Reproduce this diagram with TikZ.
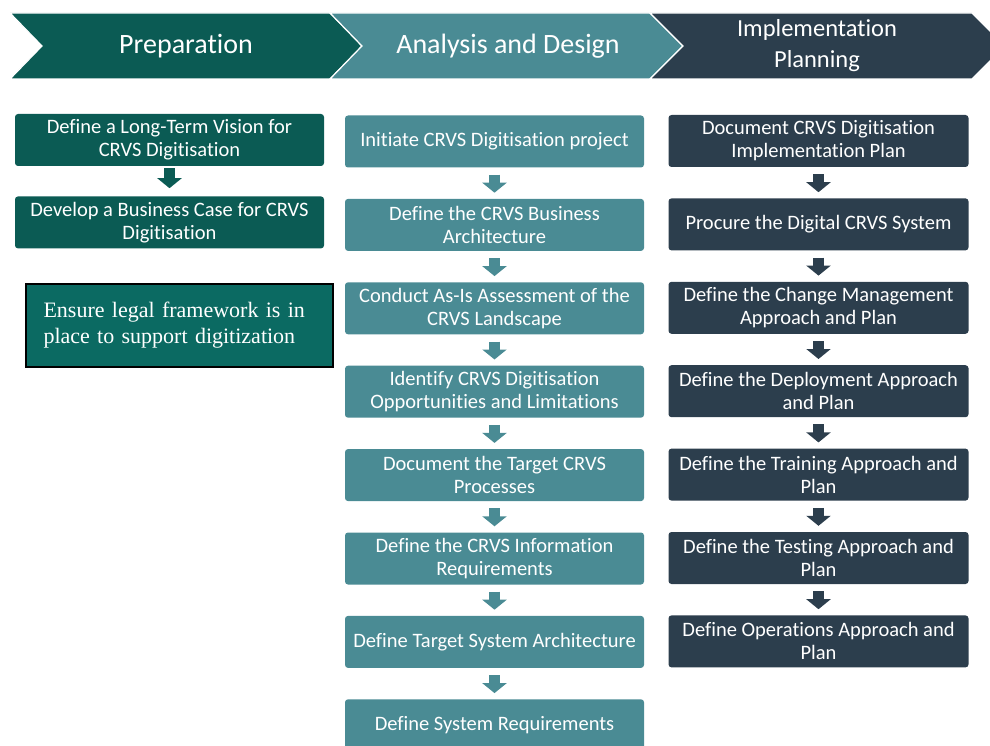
\documentclass[tikz,border=0pt]{standalone}
\usepackage{fontspec}
\setmainfont{Carlito}[Ligatures=NoCommon]
\newfontfamily\legalfont{Liberation Serif}
\usetikzlibrary{positioning,arrows.meta}

\definecolor{prepcol}{HTML}{0B5B54}
\definecolor{designcol}{HTML}{4A8B94}
\definecolor{plancol}{HTML}{2C3E4D}
\definecolor{legalcol}{HTML}{0B6A62}

\tikzset{
  phase/.style={draw=white, line width=1.2pt},
  phase label/.style={text=white, align=center, font=\fontsize{28}{31}\selectfont},
  task/.style={rectangle, rounded corners=3pt, text=white, align=center,
    minimum width=300pt, minimum height=52pt, inner sep=2pt,
    font=\fontsize{20.5}{23}\selectfont},
  prep task/.style={task, fill=prepcol, minimum width=309pt},
  design task/.style={task, fill=designcol, minimum width=299pt},
  plan task/.style={task, fill=plancol},
  flow/.style={line width=11pt, -{Triangle[width=24pt,length=10pt]},
    shorten <=7pt, shorten >=6pt}
}

\begin{document}
\begin{tikzpicture}[x=1pt,y=-1pt]
  \useasboundingbox (0,0) rectangle (990,746);
  \clip (0,0) rectangle (990,746);

  % phase chevrons
  \draw[phase, fill=prepcol] (10,13) -- (330,13) -- (362,46) -- (330,79)
    -- (10,79) -- (42,46) -- cycle;
  \draw[phase, fill=designcol] (330,13) -- (650,13) -- (683,46) -- (650,79)
    -- (330,79) -- (362,46) -- cycle;
  \draw[phase, fill=plancol] (650,13) -- (972,13) -- (1005,46) -- (972,79)
    -- (650,79) -- (683,46) -- cycle;
  \node[phase label] (prep) at (186,46) {Preparation};
  \node[phase label] (design) at (508,46) {Analysis and Design};
  \node[phase label, font=\fontsize{24.5}{31}\selectfont] (plan) at (817,46)
    {Implementation\\Planning};

  % preparation
  \node[prep task] (vision) at (169.5,140) {Define a Long-Term Vision for\\CRVS Digitisation};
  \node[prep task, below=30pt of vision] (business) {Develop a Business Case for CRVS\\Digitisation};
  \draw[flow, prepcol, shorten <=2pt, shorten >=8pt] (vision) -- (business);

  \node[draw=black, line width=1.5pt, fill=legalcol, text=white,
    text width=272pt, inner xsep=17.5pt, minimum height=83pt, align=left,
    font=\legalfont\fontsize{22}{26}\selectfont] (legal) at (179.5,325.5)
    {Ensure legal framework is in\\place to support digitization};

  % analysis and design
  \node[design task] (initiate) at (494.5,141.5) {Initiate CRVS Digitisation project};
  \node[design task, below=31pt of initiate] (busarch) {Define the CRVS Business\\Architecture};
  \node[design task, below=31pt of busarch] (asis) {Conduct As-Is Assessment of the\\CRVS Landscape};
  \node[design task, below=31pt of asis] (oppo) {Identify CRVS Digitisation\\Opportunities and Limitations};
  \node[design task, below=31pt of oppo] (target) {Document the Target CRVS\\Processes};
  \node[design task, below=31pt of target] (info) {Define the CRVS Information\\Requirements};
  \node[design task, below=31pt of info] (sysarch) {Define Target System Architecture};
  \node[design task, below=31pt of sysarch] (sysreq) {Define System Requirements};
  \foreach \a/\b in {initiate/busarch, busarch/asis, asis/oppo, oppo/target,
                     target/info, info/sysarch, sysarch/sysreq}
    \draw[flow, designcol] (\a) -- (\b);

  % implementation planning
  \node[plan task] (implan) at (818.5,141) {Document CRVS Digitisation\\Implementation Plan};
  \node[plan task, below=31pt of implan] (procure) {Procure the Digital CRVS System};
  \node[plan task, below=31pt of procure] (change) {Define the Change Management\\Approach and Plan};
  \node[plan task, below=31pt of change] (deploy) {Define the Deployment Approach\\and Plan};
  \node[plan task, below=31pt of deploy] (training) {Define the Training Approach and\\Plan};
  \node[plan task, below=31pt of training] (testing) {Define the Testing Approach and\\Plan};
  \node[plan task, below=31pt of testing] (ops) {Define Operations Approach and\\Plan};
  \foreach \a/\b in {implan/procure, procure/change, change/deploy,
                     deploy/training, training/testing, testing/ops}
    \draw[flow, plancol] (\a) -- (\b);
\end{tikzpicture}
\end{document}
